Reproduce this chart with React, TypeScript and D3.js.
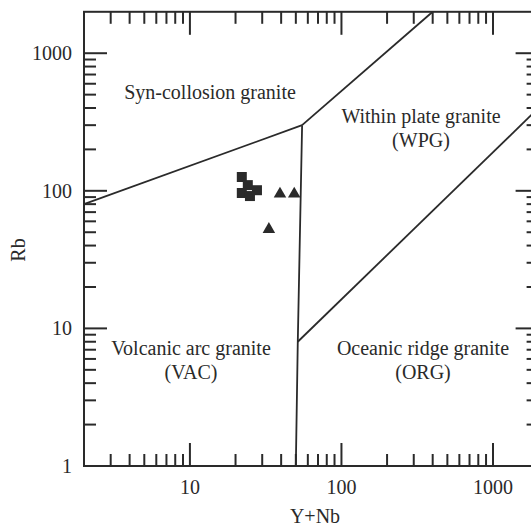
import React from "react";
import * as d3 from "d3";

const xDomain = [2, 2000];
const yDomain = [1, 2000];
const xTickLabels = [10, 100, 1000];
const yTickLabels = [1, 10, 100, 1000];

// Discrimination boundaries (Pearce et al. 1984)
const boundarySynVag = [[2, 80], [55, 300]];
const boundarySynWpg = [[55, 300], [400, 2000]];
const boundaryVag = [[55, 300], [51.5, 8], [50, 1]];
const boundaryWpgOrg = [[51.5, 8], [2000, 400]];

const squaresX = [22.0, 24.1, 22.0, 27.7, 24.9];
const squaresY = [126, 110, 96.4, 101, 91.6];
const trianglesX = [39.3, 48.8, 33.2];
const trianglesY = [95, 95, 52.5];

const fieldLabels = [
  { lines: ["Syn-collosion granite"], x: 210, y: 99 },
  { lines: ["Within plate granite", "(WPG)"], x: 421, y: 123 },
  { lines: ["Volcanic arc granite", "(VAC)"], x: 191, y: 355 },
  { lines: ["Oceanic ridge granite", "(ORG)"], x: 423, y: 355 },
];

function minorTicks(lo: number, hi: number) {
  const out: number[] = [];
  for (let d = 1; d <= 1000; d *= 10) {
    for (let m = 1; m <= 9; m++) {
      const v = m * d;
      if (v > lo && v < hi) out.push(v);
    }
  }
  return out;
}

export default function App() {
  const W = 531, H = 527;
  const left = 84, right = 538.6, top = 11.8, bottom = 466;
  const x = d3.scaleLog().domain(xDomain).range([left, right]);
  const y = d3.scaleLog().domain(yDomain).range([bottom, top]);
  const line = d3.line<number[]>().x((d) => x(d[0])).y((d) => y(d[1]));
  const col = "#2a2a2a";
  const font = "'Liberation Serif', 'Times New Roman', serif";
  const isMajor = (v: number) => Math.abs(Math.log10(v) - Math.round(Math.log10(v))) < 1e-9;
  const xt = minorTicks(xDomain[0], xDomain[1]);
  const yt = minorTicks(yDomain[0], yDomain[1]);
  const sq = d3.symbol().type(d3.symbolSquare).size(100)();
  const tri = d3.symbol().type(d3.symbolTriangle).size(68)();

  return (
    <svg width={W} height={H} style={{ position: "absolute", left: 0, top: 0, background: "#fff" }}>
      <rect x={0} y={0} width={W} height={H} fill="#fff" />
      {/* boundaries */}
      {[boundarySynVag, boundarySynWpg, boundaryVag, boundaryWpgOrg].map((b, i) => (
        <path key={i} d={line(b) || ""} fill="none" stroke={col} strokeWidth={1.8} />
      ))}
      {/* frame */}
      <rect x={left} y={top} width={right - left} height={bottom - top} fill="none" stroke={col} strokeWidth={2} />
      {/* x ticks */}
      {xt.map((v) => {
        const L = isMajor(v) ? 23 : 12;
        return (
          <g key={"x" + v}>
            <line x1={x(v)} x2={x(v)} y1={bottom} y2={bottom - L} stroke={col} strokeWidth={2} />
            <line x1={x(v)} x2={x(v)} y1={top} y2={top + L} stroke={col} strokeWidth={2} />
          </g>
        );
      })}
      {yt.map((v) => {
        const L = isMajor(v) ? 23 : 12;
        return (
          <g key={"y" + v}>
            <line x1={left} x2={left + L} y1={y(v)} y2={y(v)} stroke={col} strokeWidth={2} />
            <line x1={right} x2={right - L} y1={y(v)} y2={y(v)} stroke={col} strokeWidth={2} />
          </g>
        );
      })}
      {/* tick labels */}
      {xTickLabels.map((v) => (
        <text key={"xl" + v} x={x(v)} y={494} textAnchor="middle" fontFamily={font} fontSize={20} fill={col}>
          {v}
        </text>
      ))}
      {yTickLabels.map((v) => (
        <text key={"yl" + v} x={72} y={y(v)} dy="0.35em" textAnchor="end" fontFamily={font} fontSize={20} fill={col}>
          {v}
        </text>
      ))}
      {/* axis titles */}
      <text x={315} y={523} textAnchor="middle" fontFamily={font} fontSize={20} fill={col}>Y+Nb</text>
      <text transform="translate(25,250) rotate(-90)" textAnchor="middle" fontFamily={font} fontSize={20} fill={col}>Rb</text>
      {/* field labels */}
      {fieldLabels.map((f, i) => (
        <text key={"f" + i} x={f.x} y={f.y} textAnchor="middle" fontFamily={font} fontSize={20} fill={col}>
          {f.lines.map((l, j) => (
            <tspan key={j} x={f.x} dy={j === 0 ? 0 : 24}>{l}</tspan>
          ))}
        </text>
      ))}
      {/* data */}
      {squaresX.map((v, i) => (
        <path key={"s" + i} d={sq || ""} transform={`translate(${x(v)},${y(squaresY[i])})`} fill={col} />
      ))}
      {trianglesX.map((v, i) => (
        <path key={"t" + i} d={tri || ""} transform={`translate(${x(v)},${y(trianglesY[i])})`} fill={col} />
      ))}
    </svg>
  );
}
